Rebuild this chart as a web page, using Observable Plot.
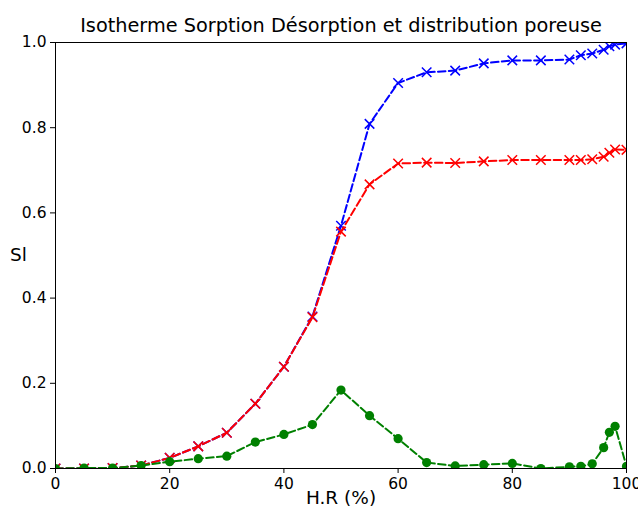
<!DOCTYPE html>
<html>
<head>
<meta charset="utf-8">
<script src="https://cdn.jsdelivr.net/npm/d3@7"></script>
<script src="https://cdn.jsdelivr.net/npm/@observablehq/plot@0.6"></script>
<style>
  html, body { margin: 0; padding: 0; background: #fff; }
  svg { font-family: "DejaVu Sans", sans-serif; }
</style>
</head>
<body>
<div id="chart"></div>
<script>
const hr = [0, 5, 10, 15, 20, 25, 30, 35, 40, 45, 50, 55, 60, 65, 70, 75, 80, 85, 90, 92, 94, 96, 97, 98, 100];
const sorption = [0, 0, 0.001, 0.007, 0.025, 0.052, 0.084, 0.152, 0.239, 0.357, 0.570, 0.809, 0.905, 0.930, 0.934, 0.951, 0.958, 0.958, 0.960, 0.970, 0.974, 0.983, 0.991, 0.995, 0.998];
const desorption = [0, 0, 0.001, 0.007, 0.025, 0.052, 0.084, 0.152, 0.239, 0.355, 0.556, 0.667, 0.716, 0.718, 0.717, 0.721, 0.724, 0.724, 0.724, 0.724, 0.726, 0.732, 0.741, 0.749, 0.748];
const distribution = [0, 0.001, 0.001, 0.007, 0.016, 0.023, 0.029, 0.062, 0.080, 0.103, 0.184, 0.124, 0.070, 0.014, 0.006, 0.009, 0.012, 0.0, 0.004, 0.005, 0.011, 0.049, 0.085, 0.099, 0.005];
const xTicks = [0, 20, 40, 60, 80, 100];
const yTicks = [0, 0.2, 0.4, 0.6, 0.8, 1.0];

const series = [
  {name: "sorption", values: sorption, color: "#0000ff", symbol: "times"},
  {name: "desorption", values: desorption, color: "#ff0000", symbol: "times"},
  {name: "distribution", values: distribution, color: "#008000", symbol: "circle"}
];

const marks = [];
for (const s of series) {
  const data = hr.map((x, i) => ({x, y: s.values[i]}));
  marks.push(Plot.line(data, {x: "x", y: "y", stroke: s.color, strokeWidth: 2, strokeDasharray: "7.5,3.3", clip: true}));
  if (s.symbol === "circle") {
    marks.push(Plot.dot(data, {x: "x", y: "y", r: 4.6, fill: s.color, stroke: "none", clip: true}));
  } else {
    marks.push(Plot.dot(data, {x: "x", y: "y", r: 4.4, symbol: "times", stroke: s.color, strokeWidth: 1.5, clip: true}));
  }
}

const chart = Plot.plot({
  width: 638,
  height: 506,
  marginLeft: 55,
  marginRight: 12,
  marginTop: 42,
  marginBottom: 38,
  style: {fontFamily: "DejaVu Sans, sans-serif", fontSize: "15px", color: "#000", background: "#fff"},
  x: {domain: [0, 100], label: null},
  y: {domain: [0, 1], label: null},
  marks: [
    ...marks,
    Plot.frame({stroke: "#000", strokeWidth: 1}),
    Plot.axisX({ticks: xTicks, tickFormat: d => String(d), tickSize: 5, tickPadding: 4, fontSize: 15.5, label: null}),
    Plot.axisY({ticks: yTicks, tickFormat: d3.format(".1f"), tickSize: 5, tickPadding: 4, fontSize: 15.5, label: null}),
    Plot.text(["Isotherme Sorption Désorption et distribution poreuse"], {frameAnchor: "top", lineAnchor: "middle", dy: -17, fontSize: 19.3, fill: "#000"}),
    Plot.text(["H.R (%)"], {frameAnchor: "bottom", lineAnchor: "middle", dy: 30, fontSize: 18.5, fill: "#000"}),
    Plot.text(["Sl"], {frameAnchor: "left", textAnchor: "middle", lineAnchor: "middle", dx: -37, fontSize: 18.5, fill: "#000"})
  ]
});
document.getElementById("chart").appendChild(chart);
</script>
</body>
</html>
